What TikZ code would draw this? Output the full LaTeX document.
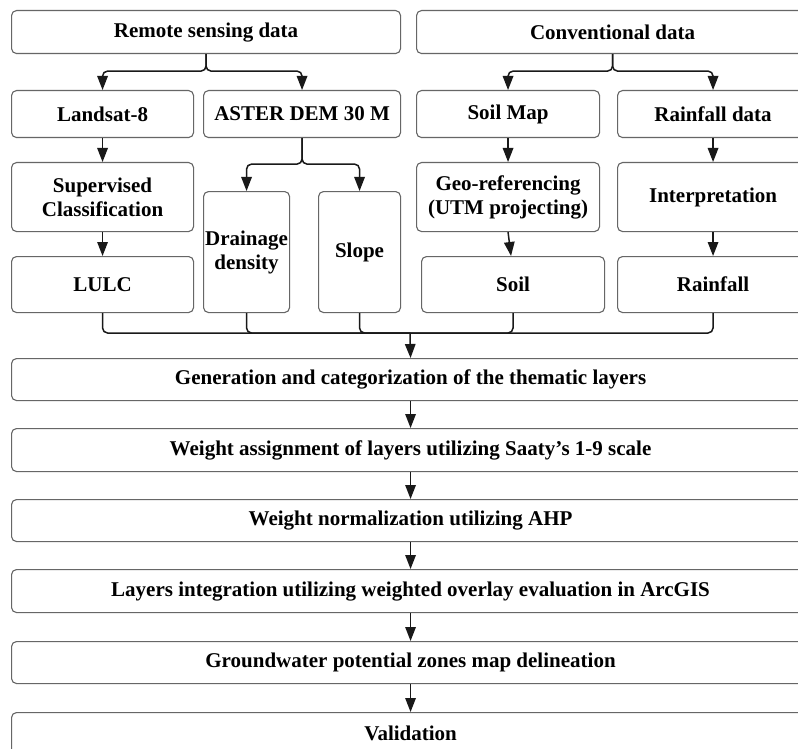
\documentclass[tikz,border=0pt]{standalone}
\usepackage{fontspec}
\setmainfont{Liberation Serif}
\usetikzlibrary{arrows.meta}
\begin{document}
\begin{tikzpicture}[x=1pt,y=-1pt,
  box/.style={draw=black!60, line width=1.1pt, rounded corners=5pt, fill=white, inner sep=0pt,
    align=center, font=\fontsize{21}{24}\selectfont\bfseries, anchor=north west},
  conn/.style={line width=1.5pt, draw=black!90, rounded corners=5pt},
  arr/.style={conn, -{Triangle[length=14pt,width=10.5pt]}}]
\useasboundingbox (0,0) rectangle (798,749);
\fill[white] (0,0) rectangle (798,749);

% top row
\node[box, minimum width=389pt, minimum height=43pt] (rs) at (11,10) {Remote sensing data};
\node[box, minimum width=392pt, minimum height=43pt] (cd) at (416,10) {Conventional data};
% second row
\node[box, minimum width=182pt, minimum height=47pt] (ls) at (11,90) {Landsat-8};
\node[box, minimum width=197pt, minimum height=47pt] (as) at (203,90) {ASTER DEM 30 M};
\node[box, minimum width=183pt, minimum height=47pt] (sm) at (416,90) {Soil Map};
\node[box, minimum width=191pt, minimum height=47pt] (rd) at (617,90) {Rainfall data};
% third row
\node[box, minimum width=182pt, minimum height=69pt] (sc) at (11,162) {Supervised\\Classification};
\node[box, minimum width=86pt, minimum height=121pt] (dd) at (203,191) {Drainage\\density};
\node[box, minimum width=82pt, minimum height=121pt] (sl) at (318,191) {Slope};
\node[box, minimum width=183pt, minimum height=69pt] (gr) at (416,162) {Geo-referencing\\(UTM projecting)};
\node[box, minimum width=191pt, minimum height=69pt] (ip) at (617,162) {Interpretation};
% fourth row
\node[box, minimum width=182pt, minimum height=56pt] (lu) at (11,256) {LULC};
\node[box, minimum width=183pt, minimum height=56pt] (so) at (421,256) {Soil};
\node[box, minimum width=191pt, minimum height=56pt] (rf) at (617,256) {Rainfall};
% bottom chain
\node[box, minimum width=798pt, minimum height=42pt] (g1) at (11,358) {Generation and categorization of the thematic layers};
\node[box, minimum width=798pt, minimum height=43pt] (g2) at (11,428) {Weight assignment of layers utilizing Saaty’s 1-9 scale};
\node[box, minimum width=798pt, minimum height=42pt] (g3) at (11,499) {Weight normalization utilizing AHP};
\node[box, minimum width=798pt, minimum height=43pt] (g4) at (11,569) {Layers integration utilizing weighted overlay evaluation in ArcGIS};
\node[box, minimum width=798pt, minimum height=42pt] (g5) at (11,641) {Groundwater potential zones map delineation};
\node[box, minimum width=798pt, minimum height=42pt] (g6) at (11,712) {Validation};

% connectors
\draw[arr] (rs.south) -- ++(0,17) -| (ls.north);
\draw[arr] (rs.south) -- ++(0,17) -| (as.north);
\draw[arr] (cd.south) -- ++(0,17) -| (sm.north);
\draw[arr] (cd.south) -- ++(0,17) -| (rd.north);
\draw[arr] (ls.south) -- (sc.north);
\draw[arr] (sc.south) -- (lu.north);
\draw[arr] (as.south) -- ++(0,26) -| (dd.north);
\draw[arr] (as.south) -- ++(0,26) -| (sl.north);
\draw[arr] (sm.south) -- (gr.north);
\draw[arr] (gr.south) -- ([xshift=-2pt]so.north);
\draw[arr] (rd.south) -- (ip.north);
\draw[arr] (ip.south) -- (rf.north);

\coordinate (m) at (410,333);
\draw[conn] (lu.south) |- (m);
\draw[conn] (dd.south) |- (m);
\draw[conn] (sl.south) |- (m);
\draw[conn] (so.south) |- (m);
\draw[conn] (rf.south) |- (m);
\draw[arr] (m) -- (g1.north);
\draw[arr] (g1.south) -- (g2.north);
\draw[arr] (g2.south) -- (g3.north);
\draw[arr] (g3.south) -- (g4.north);
\draw[arr] (g4.south) -- (g5.north);
\draw[arr] (g5.south) -- (g6.north);
\end{tikzpicture}
\end{document}
